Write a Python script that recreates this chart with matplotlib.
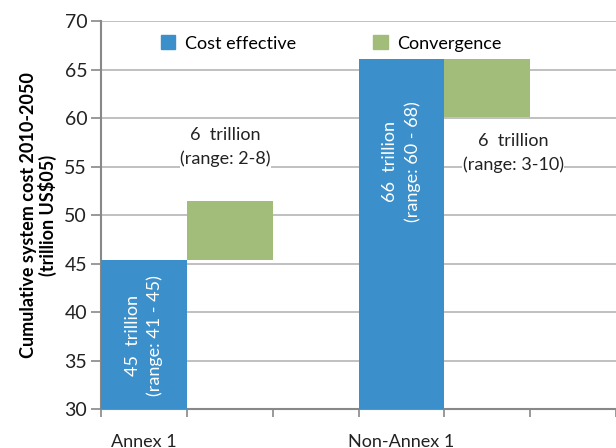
import matplotlib.pyplot as plt
from matplotlib.patches import Patch

plt.rcParams['font.family'] = ['Lato', 'DejaVu Sans']

# 값 (trillion US$05)
regions = ['Annex 1', 'Non-Annex 1']
cost_effective = [45.4, 66.1]
convergence_low = [45.4, 60.1]
convergence_high = [51.4, 66.1]
blue_labels = ['45  trillion\n(range: 41 - 45)', '66  trillion\n(range: 60 - 68)']
green_labels = ['6  trillion\n(range: 2-8)', '6  trillion\n(range: 3-10)']

# 라벨 위치 (x, y)
blue_label_y = [37.6, 55.5]
green_label_pos = [(0.95, 57.0), (4.3, 56.4)]

blue = '#3b8fcb'
green = '#a2bd79'
ymin = 30

fig = plt.figure(figsize=(6.16, 4.48), dpi=100)
ax = fig.add_axes([0.164, 0.087, 0.836, 0.866])

# 각 지역은 3칸 (파랑, 초록, 빈칸)
for i, name in enumerate(regions):
    xb = i * 3
    xg = xb + 1
    ax.bar(xb, cost_effective[i] - ymin, bottom=ymin, width=1.0, color=blue, zorder=3)
    ax.bar(xg, convergence_high[i] - convergence_low[i], bottom=convergence_low[i],
           width=1.0, color=green, zorder=3)
    ax.text(xb, blue_label_y[i], blue_labels[i], rotation=90, color='white',
            ha='center', va='center', fontsize=13, linespacing=1.45, zorder=4)
    gx, gy = green_label_pos[i]
    ax.text(gx, gy, green_labels[i], ha='center', va='center', fontsize=13,
            color='#222222', linespacing=1.5, zorder=4,
            bbox=dict(facecolor='white', edgecolor='none', pad=0.5))

ax.set_xlim(-0.5, 5.5)
ax.set_ylim(30, 70)
ax.set_yticks(range(30, 71, 5))
ax.yaxis.grid(True, color='#b5b5b5', linewidth=1.2, zorder=0)
ax.set_axisbelow(True)

ax.set_xticks([0, 3])
ax.set_xticklabels(regions, fontsize=13, color='#222222')
ax.set_xticks([x - 0.5 for x in range(7)], minor=True)
ax.tick_params(axis='x', which='major', length=0, pad=18)
ax.tick_params(axis='x', which='minor', length=6, color='#888888', width=1.2)
ax.tick_params(axis='y', length=7, color='#888888', width=1.2, labelsize=14,
               labelcolor='#222222', pad=3)

for s in ['top', 'right']:
    ax.spines[s].set_visible(False)
for s in ['left', 'bottom']:
    ax.spines[s].set_color('#888888')
    ax.spines[s].set_linewidth(1.5)

ax.set_ylabel('Cumulative system cost 2010-2050\n(trillion US$05)', fontsize=13,
              fontweight='bold', labelpad=5, linespacing=1.1)

handles = [Patch(color=blue, label='Cost effective'), Patch(color=green, label='Convergence')]
ax.legend(handles=handles, loc='upper left', bbox_to_anchor=(0.085, 1.005), ncol=2,
          frameon=False, fontsize=13, handlelength=0.8, handleheight=0.8,
          handletextpad=0.5, columnspacing=4.3)

fig.savefig('out.png', dpi=100)
